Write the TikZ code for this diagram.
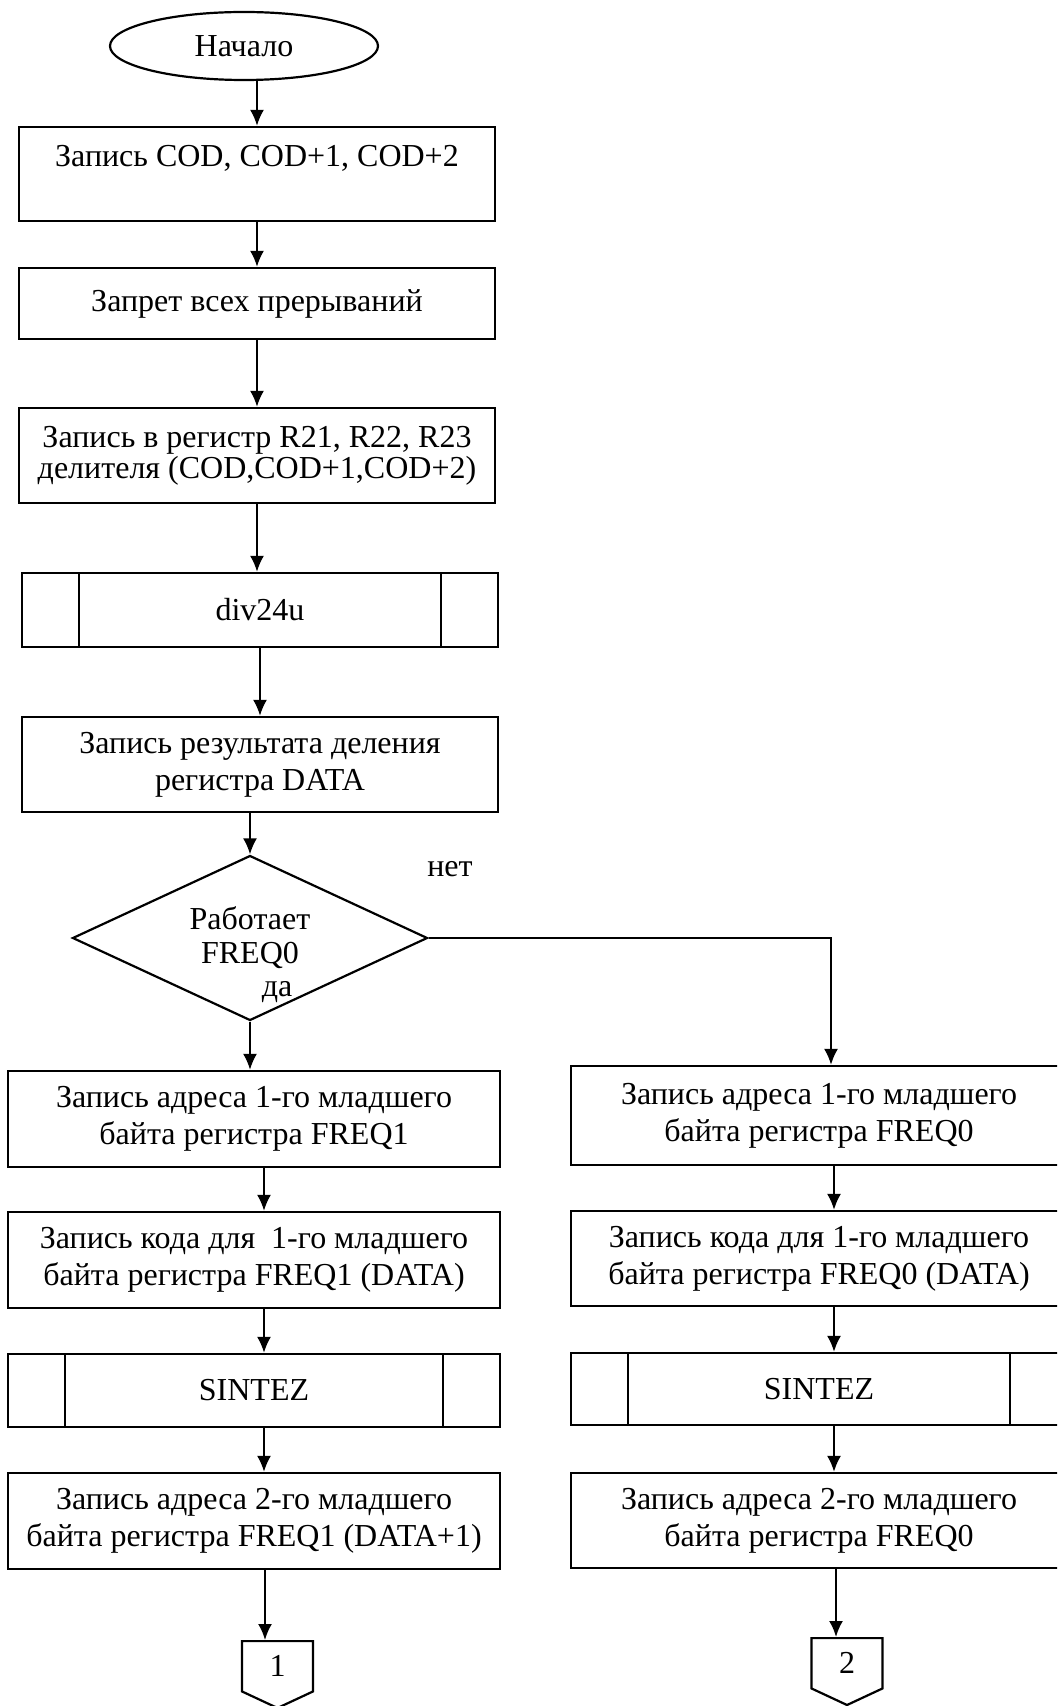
\documentclass[tikz,border=0pt]{standalone}
\usepackage{fontspec}
\setmainfont{Liberation Serif}
\usetikzlibrary{shapes,shapes.symbols,arrows.meta,positioning,calc}

\begin{document}
\begin{tikzpicture}[x=0.5pt, y=-0.5pt, line width=1.1pt, font=\fontsize{16}{18.5}\selectfont]
\tikzstyle{block} = [rectangle, draw, align=center, minimum width=238pt, inner sep=2pt]
\tikzstyle{subproc} = [block, path picture={
  \draw ([xshift=28.5pt]path picture bounding box.north west) -- ([xshift=28.5pt]path picture bounding box.south west);
  \draw ([xshift=-28.5pt]path picture bounding box.north east) -- ([xshift=-28.5pt]path picture bounding box.south east);}]
\tikzstyle{startstop} = [ellipse, draw, minimum width=134pt, minimum height=34pt, inner sep=1pt]
\tikzstyle{decision} = [diamond, draw, align=center, minimum width=177.5pt, minimum height=82.5pt, aspect=2.15, inner sep=1pt]
\tikzstyle{connector} = [signal, draw, signal to=south, signal from=nowhere, signal pointer angle=130, minimum width=35.5pt, minimum height=27.5pt, inner sep=1pt]
\tikzstyle{answer} = [inner sep=0pt]
\tikzstyle{line} = [draw, -{Latex[length=8pt,width=7pt]}]

\useasboundingbox (0,0) rectangle (1057,1706);
\clip (0,0) rectangle (1057,1706);

\node [startstop] (start) at (244,46) {Начало};
\node [block, minimum height=47pt] (wrcod) at (257,174) {Запись COD, COD+1, COD+2\\~};
\node [block, minimum height=35.5pt] (noint) at (257,303.5) {Запрет всех прерываний};
\node [block, minimum height=47.5pt, font=\fontsize{16}{14.5}\selectfont] (wrreg) at (257,455.5) {Запись в регистр R21, R22, R23\\делителя (COD,COD+1,COD+2)};
\node [subproc, minimum height=37pt] (div) at (260,610) {div24u};
\node [block, minimum height=47.5pt] (wrres) at (260,764.5) {Запись результата деления\\регистра DATA};
\node [decision, font=\fontsize{16}{17}\selectfont] (freq) at (250,938) {Работает\\FREQ0};
\node [answer] (yes) at (277,992) {да};
\node [answer] (no) at (450,869) {нет};

% ветка FREQ1
\node [block, minimum width=246pt, minimum height=48pt] (adr1a) at (254,1119) {Запись адреса 1-го младшего\\байта регистра FREQ1};
\node [block, minimum width=246pt, minimum height=48pt] (code1a) at (254,1260) {Запись кода для~ 1-го младшего\\байта регистра FREQ1 (DATA)};
\node [subproc, minimum width=246pt, minimum height=36.5pt] (sinta) at (254,1390.5) {SINTEZ};
\node [block, minimum width=246pt, minimum height=48pt] (adr2a) at (254,1521) {Запись адреса 2-го младшего\\байта регистра FREQ1 (DATA+1)};
\node [connector, anchor=north] (con1) at (277.5,1640) {1};

% ветка FREQ0
\node [block, minimum width=248pt, minimum height=49.5pt] (adr1b) at (819,1115.5) {Запись адреса 1-го младшего\\байта регистра FREQ0};
\node [block, minimum width=248pt, minimum height=47.5pt] (code1b) at (819,1258.5) {Запись кода для 1-го младшего\\байта регистра FREQ0 (DATA)};
\node [subproc, minimum width=248pt, minimum height=36pt] (sintb) at (819,1389) {SINTEZ};
\node [block, minimum width=248pt, minimum height=47.5pt] (adr2b) at (819,1520.5) {Запись адреса 2-го младшего\\байта регистра FREQ0};
\node [connector, anchor=north] (con2) at (847,1637) {2};

\path [line] (start.south -| wrcod.north) -- (wrcod.north);
\path [line] (wrcod) -- (noint);
\path [line] (noint) -- (wrreg);
\path [line] (wrreg.south) -- (wrreg.south |- div.north);
\path [line] (div) -- (wrres);
\path [line] (wrres.south -| freq.north) -- (freq.north);
\path [line] (freq.south) -- (freq.south |- adr1a.north);
\path [line] (freq.east) -| ([xshift=6pt]adr1b.north);

\path [line] ([xshift=5pt]adr1a.south) -- ([xshift=5pt]code1a.north);
\path [line] ([xshift=5pt]code1a.south) -- ([xshift=5pt]sinta.north);
\path [line] ([xshift=5pt]sinta.south) -- ([xshift=5pt]adr2a.south |- adr2a.north);
\path [line] ([xshift=5.5pt]adr2a.south) -- ([xshift=5.5pt]adr2a.south |- con1.north);

\path [line] ([xshift=7.5pt]adr1b.south) -- ([xshift=7.5pt]code1b.north);
\path [line] ([xshift=7.5pt]code1b.south) -- ([xshift=7.5pt]sintb.north);
\path [line] ([xshift=7.5pt]sintb.south) -- ([xshift=7.5pt]adr2b.north);
\path [line] ([xshift=8.5pt]adr2b.south) -- ([xshift=8.5pt]adr2b.south |- con2.north);

\end{tikzpicture}
\end{document}
